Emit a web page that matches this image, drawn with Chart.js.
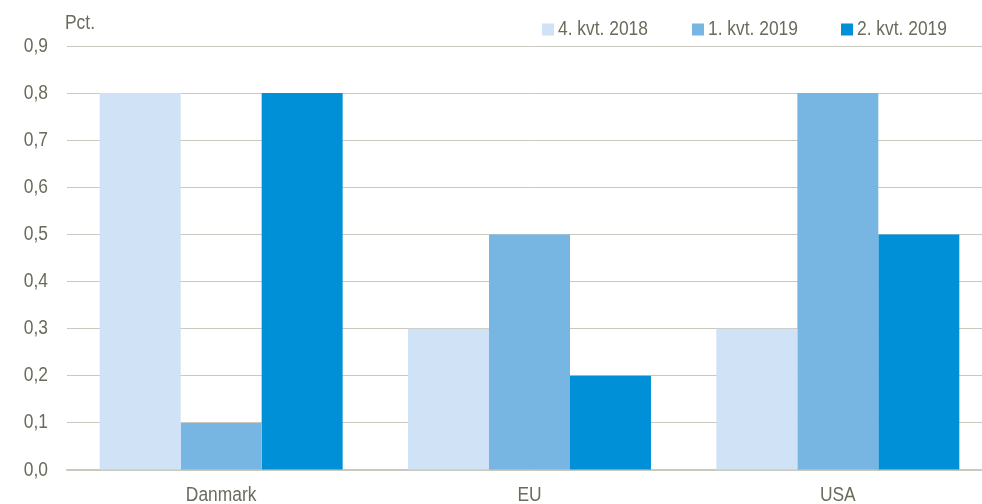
<!DOCTYPE html>
<html>
<head>
<meta charset="utf-8">
<script src="https://cdn.jsdelivr.net/npm/chart.js@4/dist/chart.umd.min.js"></script>
<style>
html,body{margin:0;padding:0;background:#fff;overflow:hidden;width:982px;height:504px;}
#wrap{position:absolute;left:0;top:0;width:992px;height:520px;}
</style>
</head>
<body>
<div id="wrap"><canvas id="c" width="992" height="520"></canvas></div>
<script>
const categories = ["Danmark", "EU", "USA"];
const seriesNames = ["4. kvt. 2018", "1. kvt. 2019", "2. kvt. 2019"];
const q4_2018 = [0.8, 0.3, 0.3];
const q1_2019 = [0.1, 0.5, 0.8];
const q2_2019 = [0.8, 0.2, 0.5];
const yTicks = [0, 0.1, 0.2, 0.3, 0.4, 0.5, 0.6, 0.7, 0.8, 0.9];
const yUnit = "Pct.";

const colors = ["#cfe2f6", "#77b5e3", "#0090d7"];
const textColor = "#6b6b5c";
const gridColor = "#cac9c0";
const FONT = "'Liberation Sans', Arial, sans-serif";
const FSIZE = 20;
const SX = 0.87;

function drawText(ctx, txt, x, y, align) {
  ctx.save();
  ctx.translate(x, y);
  ctx.scale(SX, 1);
  ctx.textAlign = align;
  ctx.fillText(txt, 0, 0);
  ctx.restore();
}

const textPlugin = {
  id: 'textPlugin',
  afterDraw(chart) {
    const ctx = chart.ctx;
    ctx.save();
    ctx.font = FSIZE + "px " + FONT;
    ctx.textBaseline = "middle";
    ctx.fillStyle = textColor;
    // y tick labels
    const ys = chart.scales.y;
    ys.ticks.forEach(t => {
      drawText(ctx, Number(t.value).toFixed(1).replace('.', ','), 48, ys.getPixelForValue(t.value), 'right');
    });
    // x labels
    const xs = chart.scales.x;
    chart.data.labels.forEach((lab, i) => {
      drawText(ctx, lab, xs.getPixelForValue(i), 495, 'center');
    });
    // unit label
    drawText(ctx, yUnit, 65, 23, 'left');
    // legend
    const lx = [542, 692, 841];
    chart.data.datasets.forEach((ds, i) => {
      ctx.fillStyle = ds.backgroundColor;
      ctx.fillRect(lx[i], 23.5, 12, 12);
      ctx.fillStyle = textColor;
      drawText(ctx, ds.label, lx[i] + 16, 29.5, 'left');
    });
    ctx.restore();
  }
};

new Chart(document.getElementById('c'), {
  type: 'bar',
  data: {
    labels: categories,
    datasets: [
      { label: seriesNames[0], data: q4_2018, backgroundColor: colors[0] },
      { label: seriesNames[1], data: q1_2019, backgroundColor: colors[1] },
      { label: seriesNames[2], data: q2_2019, backgroundColor: colors[2] }
    ]
  },
  options: {
    responsive: false,
    animation: false,
    devicePixelRatio: 1,
    layout: { padding: { top: 46, right: 0, left: 0, bottom: 0 } },
    plugins: { legend: { display: false }, tooltip: { enabled: false } },
    datasets: { bar: { categoryPercentage: 0.788, barPercentage: 1.0, borderWidth: 0 } },
    scales: {
      x: {
        grid: { display: false, drawTicks: false },
        border: { color: gridColor, width: 1.5 },
        ticks: { display: false },
        afterFit(scale) { scale.height = 50; }
      },
      y: {
        min: 0, max: 0.9,
        afterBuildTicks(scale) { scale.ticks = yTicks.map(v => ({ value: v })); },
        grid: { color: gridColor, lineWidth: 1, drawTicks: false },
        border: { display: false },
        ticks: { display: false },
        afterFit(scale) { scale.width = 67; }
      }
    }
  },
  plugins: [textPlugin]
});
</script>
</body>
</html>
